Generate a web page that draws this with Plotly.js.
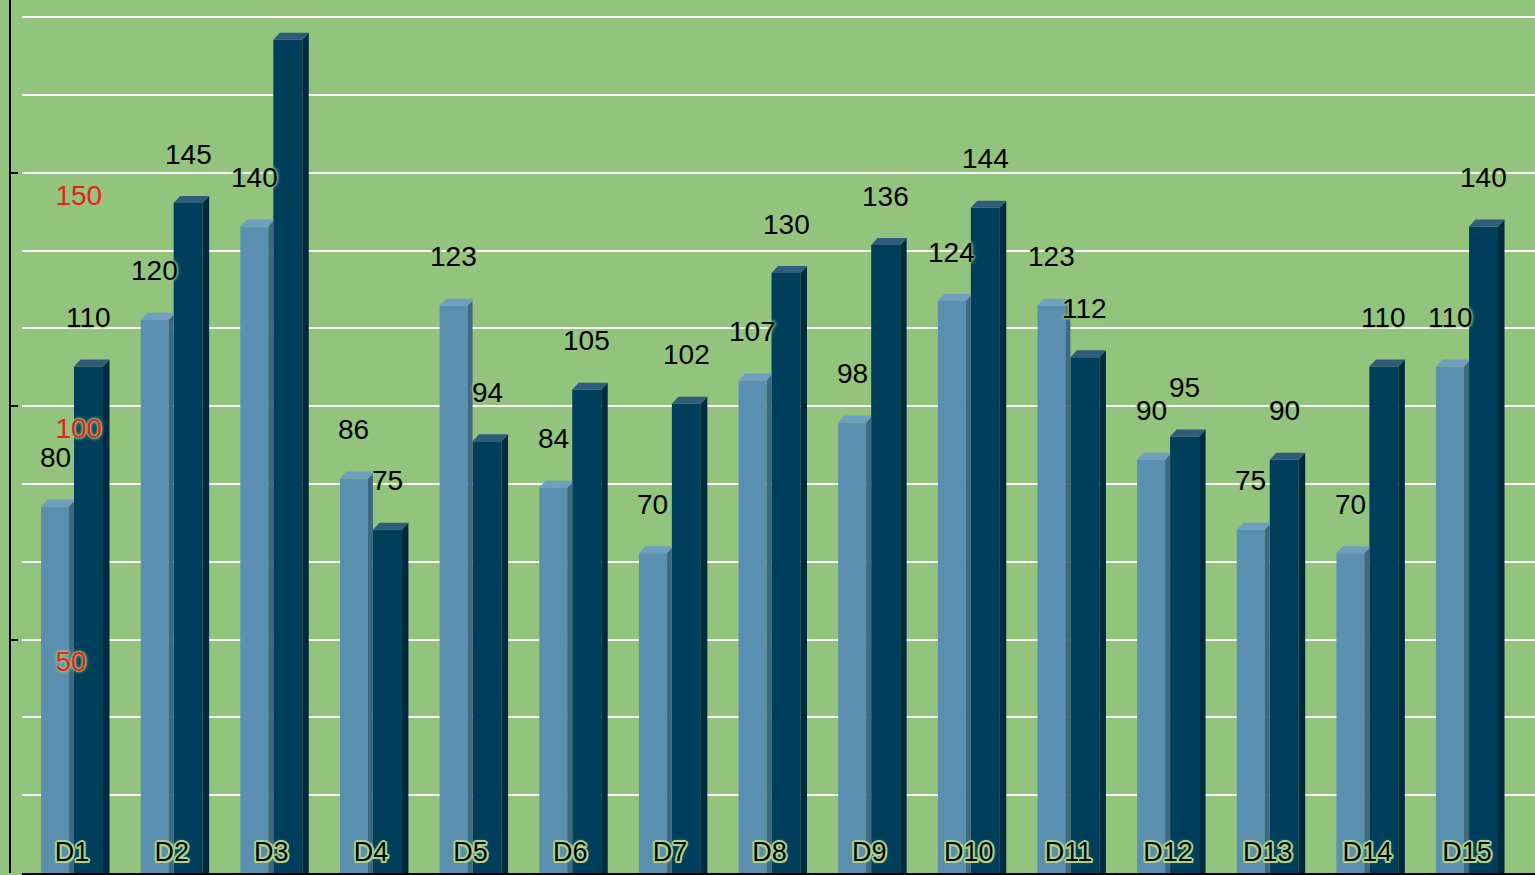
<!DOCTYPE html>
<html>
<head>
<meta charset="utf-8">
<script src="https://cdn.plot.ly/plotly-3.0.1.min.js"></script>
<style>
  html, body { margin: 0; padding: 0; background: #93c47d; }
  #chart { width: 1535px; height: 875px; }
</style>
</head>
<body>
<div id="chart"></div>
<script>
// ---- data ----
const categories = ['D1','D2','D3','D4','D5','D6','D7','D8','D9','D10','D11','D12','D13','D14','D15'];
const seriesA = [80, 120, 140, 86, 123, 84, 70, 107, 98, 124, 123, 90, 75, 70, 110];
const seriesB = [110, 145, 180, 75, 94, 105, 102, 130, 136, 144, 112, 95, 90, 110, 140];
const yTickVals = [50, 100, 150];
const yTickText = ['50', '100', '150'];

// ---- style / geometry ----
const BG = '#93c47d';
const FONT = '"Liberation Sans", Arial, sans-serif';
const DX = 0.065;   // depth in x units
const DY = 1.5;     // depth in y units
const A = { off: -0.341, w: 0.281, front: '#5b8fb0', side: '#3f6883', top: '#6d9fbf' };
const B = { off: -0.010, w: 0.291, front: '#003f5c', side: '#002a3e', top: '#2e5d7b' };
const halo = '0 0 1px ' + BG + ', 0 0 2px ' + BG + ', 0 0 2px ' + BG + ', 0 0 3px ' + BG + ', 0 0 4px #a3cf8b';
const HC = '#a9d48b';
const xHalo = ['2px 0 ' + HC, '-2px 0 ' + HC, '0 2px ' + HC, '0 -2px ' + HC,
  '1.5px 1.5px ' + HC, '-1.5px 1.5px ' + HC, '1.5px -1.5px ' + HC, '-1.5px -1.5px ' + HC,
  '0 0 4px #7ea86a'].join(', ');
const xs = categories.map((c, i) => i);

function frontTrace(vals, s, name) {
  return {
    type: 'bar', name: name, x: xs, y: vals.map(v => v - DY), base: 0,
    offset: s.off, width: s.w, marker: { color: s.front, line: { width: 0 } },
    hovertext: vals.map((v, i) => categories[i] + ': ' + v), hoverinfo: 'text',
    showlegend: false
  };
}
function polyTrace(vals, s, kind, clipRight) {
  const px = [], py = [];
  vals.forEach((v, i) => {
    const xl = i + s.off, xr = i + s.off + s.w;
    let pts;
    if (kind === 'side') {
      let xe = xr + DX, ye = v;
      if (clipRight !== undefined && xe > i + clipRight) {
        xe = i + clipRight; ye = v - DY + DY * ((xe - xr) / DX);
      }
      pts = [[xr, 0], [xr, v - DY], [xe, ye], [xe, 0]];
    } else {
      let xe = xr + DX;
      if (clipRight !== undefined && xe > i + clipRight) {
        const xc = i + clipRight;
        const yc = v - DY + DY * ((xc - xr) / DX);
        pts = [[xl, v - DY], [xl + DX, v], [xc, v], [xc, yc], [xr, v - DY]];
      } else {
        pts = [[xl, v - DY], [xl + DX, v], [xe, v], [xr, v - DY]];
      }
    }
    pts.forEach(p => { px.push(p[0]); py.push(p[1]); });
    px.push(pts[0][0]); py.push(pts[0][1]);
    px.push(null); py.push(null);
  });
  return {
    type: 'scatter', mode: 'lines', x: px, y: py, fill: 'toself',
    fillcolor: s[kind], line: { width: 0, color: s[kind] },
    hoverinfo: 'skip', showlegend: false, connectgaps: false
  };
}

const data = [
  frontTrace(seriesA, A, 'Series A'),
  frontTrace(seriesB, B, 'Series B'),
  polyTrace(seriesA, A, 'side', B.off),
  polyTrace(seriesA, A, 'top', B.off),
  polyTrace(seriesB, B, 'side'),
  polyTrace(seriesB, B, 'top')
];

const annotations = [];
seriesA.forEach((v, i) => annotations.push({
  x: i + A.off + A.w / 2, y: v, xref: 'x', yref: 'y', text: String(v),
  showarrow: false, yshift: 42, yanchor: 'middle', xanchor: 'center',
  font: { family: FONT, size: 28, color: '#000', shadow: halo }
}));
seriesB.forEach((v, i) => annotations.push({
  x: i + B.off + B.w / 2, y: v, xref: 'x', yref: 'y', text: String(v),
  showarrow: false, yshift: 42, yanchor: 'middle', xanchor: 'center',
  font: { family: FONT, size: 28, color: '#000', shadow: halo }
}));

const layout = {
  width: 1535, height: 875,
  margin: { l: 10, r: 0, t: 0, b: 2, pad: 0 },
  paper_bgcolor: BG, plot_bgcolor: BG,
  showlegend: false,
  barmode: 'overlay',
  font: { family: FONT, size: 28, color: '#000' },
  xaxis: {
    domain: [12 / 1525, 1],
    range: [-0.532, 14.652],
    tickmode: 'array', tickvals: xs, ticktext: categories,
    ticks: '', showgrid: false, zeroline: false,
    showline: true, linecolor: '#000', linewidth: 2,
    ticklabelposition: 'inside', ticklabelstandoff: 9, ticklabelshift: -3,
    ticklabeloverflow: 'allow',
    tickfont: { family: FONT, size: 27, color: '#000', shadow: xHalo },
    fixedrange: true
  },
  yaxis: {
    anchor: 'free', position: 0,
    range: [0, 187.0],
    tickmode: 'array', tickvals: yTickVals, ticktext: yTickText,
    ticks: 'inside', ticklen: 7, tickwidth: 2, tickcolor: '#000',
    showline: true, linecolor: '#000', linewidth: 2,
    showgrid: true, gridcolor: '#ffffff', gridwidth: 2,
    zeroline: false,
    minor: { tickmode: 'linear', tick0: 0, dtick: 50 / 3, showgrid: true,
      gridcolor: '#ffffff', gridwidth: 2, ticks: '' },
    ticklabelposition: 'inside', ticklabelstandoff: 40, ticklabelshift: 22,
    ticklabeloverflow: 'allow',
    tickfont: { family: FONT, size: 28, color: '#e8211b', shadow: halo },
    fixedrange: true
  },
  annotations: annotations
};

Plotly.newPlot('chart', data, layout, { displayModeBar: false, staticPlot: false });
</script>
</body>
</html>
